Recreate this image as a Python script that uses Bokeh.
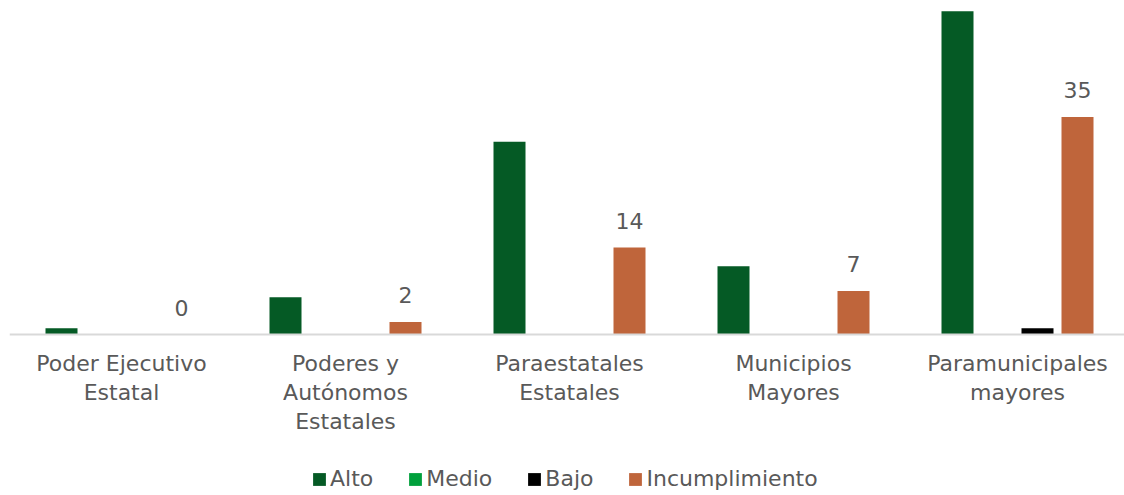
import numpy as np
from bokeh.plotting import figure
from bokeh.models import Range1d, ColumnDataSource, Legend, LegendItem, LabelSet, Span
from bokeh.core.properties import value
from bokeh.embed import file_html
from bokeh.resources import INLINE

categories = ["Poder Ejecutivo\nEstatal", "Poderes y\nAutónomos\nEstatales",
              "Paraestatales\nEstatales", "Municipios\nMayores", "Paramunicipales\nmayores"]
alto = [1, 6, 31, 11, 52]
medio = [0, 0, 0, 0, 0]
bajo = [0, 0, 0, 0, 1]
incumplimiento = [0, 2, 14, 7, 35]

series_names = ["Alto", "Medio", "Bajo", "Incumplimiento"]
series_colors = ["#055a25", "#00a03c", "#000000", "#bf653b"]

FONT = "DejaVu Sans"
TXT = "#595959"

PXU = 6.214  # pixels per unit
p = figure(frame_width=1115, frame_height=495, output_backend="svg", toolbar_location=None,
           x_range=Range1d(0, 1115 / 224), y_range=Range1d(-161 / PXU, 334 / PXU),
           min_border_left=9, min_border_right=0, min_border_top=0, min_border_bottom=0)
p.outline_line_color = None
p.grid.visible = False
p.axis.visible = False
p.background_fill_color = "white"
p.border_fill_color = "white"

xc = np.arange(len(categories)) + 0.5

# baseline (category axis line)
p.add_layout(Span(location=0, dimension="width", line_color="#d9d9d9", line_width=2))

# category labels
cat_src = ColumnDataSource(dict(x=xc, y=np.zeros(len(categories)), t=categories))
p.text(x="x", y="y", text="t", source=cat_src, text_align="center", text_baseline="top",
       y_offset=16, text_font=value(FONT), text_font_size=value("22px"),
       text_color=TXT, text_line_height=1.17)

step = 40 / 224
offsets = [-1.5 * step, -0.5 * step, 0.5 * step, 1.5 * step]
values = [alto, medio, bajo, incumplimiento]
items = []
src_inc = None
for name, col, off, vals in zip(series_names, series_colors, offsets, values):
    src = ColumnDataSource(dict(x=xc + off, top=vals, lab=[str(v) for v in vals]))
    r = p.vbar(x="x", top="top", bottom=0, width=32 / 224, source=src,
               fill_color=col, line_color=None)
    items.append(LegendItem(label=name, renderers=[r]))
    if name == "Incumplimiento":
        src_inc = src

labels = LabelSet(x="x", y="top", text="lab", source=src_inc, text_align="center",
                  text_baseline="alphabetic", y_offset=19, text_font=value(FONT),
                  text_font_size=value("22px"), text_color=TXT)
p.add_layout(labels)

legend = Legend(items=items, orientation="horizontal", location=(302, 4),
                label_text_font=FONT, label_text_font_size="22px", label_text_color=TXT,
                glyph_width=16, glyph_height=16, label_standoff=3, spacing=34,
                border_line_color=None, background_fill_alpha=0, margin=0, padding=0)
p.add_layout(legend, "center")

open("out.html", "w").write(file_html(p, INLINE))
